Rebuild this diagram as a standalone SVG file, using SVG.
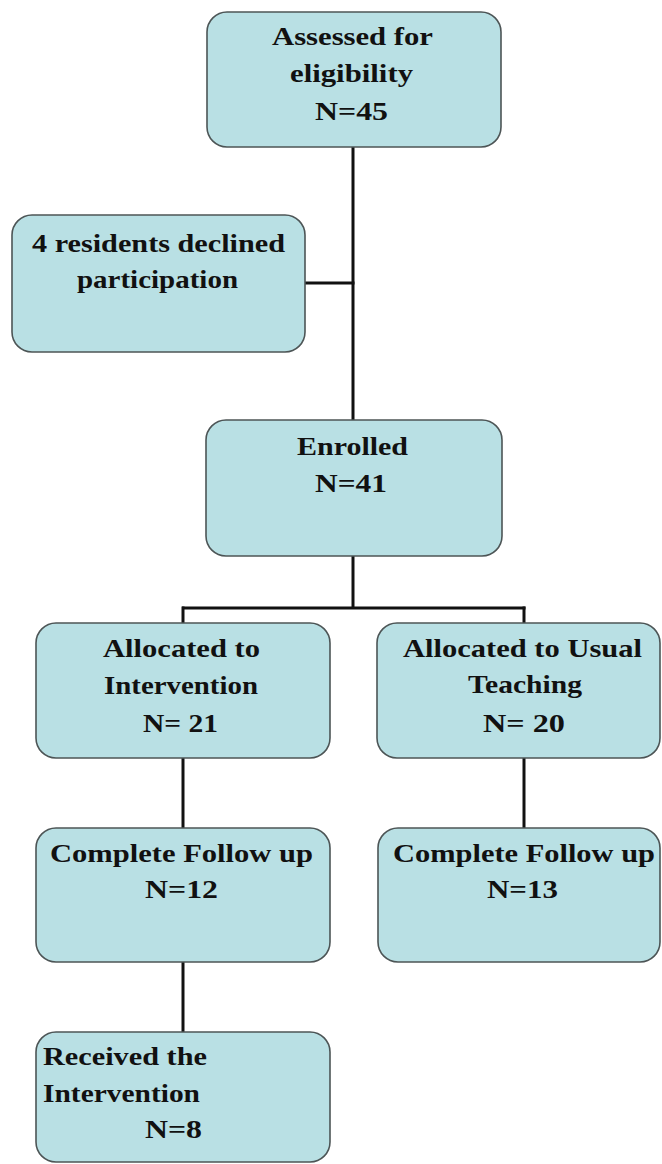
<svg xmlns="http://www.w3.org/2000/svg" width="662" height="1164" viewBox="0 0 662 1164">
<style>
.box{fill:#b9e0e4;stroke:#4d5556;stroke-width:1.6}
.t{font-family:"Liberation Serif","Times New Roman",serif;font-weight:bold;font-size:26px;fill:#111}
.c{stroke:#111;stroke-width:3;fill:none}
</style>
<rect width="662" height="1164" fill="#ffffff"/>
<g id="connectors">
<line class="c" x1="353" y1="147" x2="353" y2="420"/>
<line class="c" x1="305" y1="283" x2="354.5" y2="283"/>
<line class="c" x1="353" y1="556" x2="353" y2="608"/>
<line class="c" x1="182" y1="608" x2="525.5" y2="608"/>
<line class="c" x1="183" y1="606.5" x2="183" y2="623"/>
<line class="c" x1="524" y1="606.5" x2="524" y2="623"/>
<line class="c" x1="183" y1="758" x2="183" y2="828"/>
<line class="c" x1="524" y1="758" x2="524" y2="828"/>
<line class="c" x1="183" y1="962" x2="183" y2="1032"/>
</g>
<g id="assessed">
<rect class="box" x="207" y="12" width="294" height="135" rx="20"/>
<text class="t" x="272" y="45" textLength="161" lengthAdjust="spacingAndGlyphs">Assessed for</text>
<text class="t" x="290" y="82" textLength="123" lengthAdjust="spacingAndGlyphs">eligibility</text>
<text class="t" x="315" y="120" textLength="73" lengthAdjust="spacingAndGlyphs">N=45</text>
</g>
<g id="declined">
<rect class="box" x="12" y="215" width="293" height="137" rx="20"/>
<text class="t" x="32" y="252" textLength="253" lengthAdjust="spacingAndGlyphs">4 residents declined</text>
<text class="t" x="77" y="288" textLength="161" lengthAdjust="spacingAndGlyphs">participation</text>
</g>
<g id="enrolled">
<rect class="box" x="206" y="420" width="296" height="136" rx="20"/>
<text class="t" x="297" y="455" textLength="111" lengthAdjust="spacingAndGlyphs">Enrolled</text>
<text class="t" x="315" y="492" textLength="72" lengthAdjust="spacingAndGlyphs">N=41</text>
</g>
<g id="alloc-intervention">
<rect class="box" x="36" y="623" width="294" height="135" rx="20"/>
<text class="t" x="103" y="657" textLength="157" lengthAdjust="spacingAndGlyphs">Allocated to</text>
<text class="t" x="104" y="694" textLength="154" lengthAdjust="spacingAndGlyphs">Intervention</text>
<text class="t" x="143" y="732" textLength="75" lengthAdjust="spacingAndGlyphs">N= 21</text>
</g>
<g id="alloc-usual">
<rect class="box" x="377" y="623" width="283" height="135" rx="20"/>
<text class="t" x="403" y="657" textLength="239" lengthAdjust="spacingAndGlyphs">Allocated to Usual</text>
<text class="t" x="468" y="693" textLength="114" lengthAdjust="spacingAndGlyphs">Teaching</text>
<text class="t" x="483" y="732" textLength="82" lengthAdjust="spacingAndGlyphs">N= 20</text>
</g>
<g id="followup-intervention">
<rect class="box" x="36" y="828" width="294" height="134" rx="20"/>
<text class="t" x="50" y="862" textLength="263" lengthAdjust="spacingAndGlyphs">Complete Follow up</text>
<text class="t" x="145" y="898" textLength="73" lengthAdjust="spacingAndGlyphs">N=12</text>
</g>
<g id="followup-usual">
<rect class="box" x="378" y="828" width="282" height="134" rx="20"/>
<text class="t" x="393" y="862" textLength="262" lengthAdjust="spacingAndGlyphs">Complete Follow up</text>
<text class="t" x="487" y="898" textLength="71" lengthAdjust="spacingAndGlyphs">N=13</text>
</g>
<g id="received">
<rect class="box" x="36" y="1032" width="294" height="130" rx="20"/>
<text class="t" x="43" y="1065" textLength="164" lengthAdjust="spacingAndGlyphs">Received the</text>
<text class="t" x="43" y="1102" textLength="157" lengthAdjust="spacingAndGlyphs">Intervention</text>
<text class="t" x="145" y="1138" textLength="57" lengthAdjust="spacingAndGlyphs">N=8</text>
</g>
</svg>
